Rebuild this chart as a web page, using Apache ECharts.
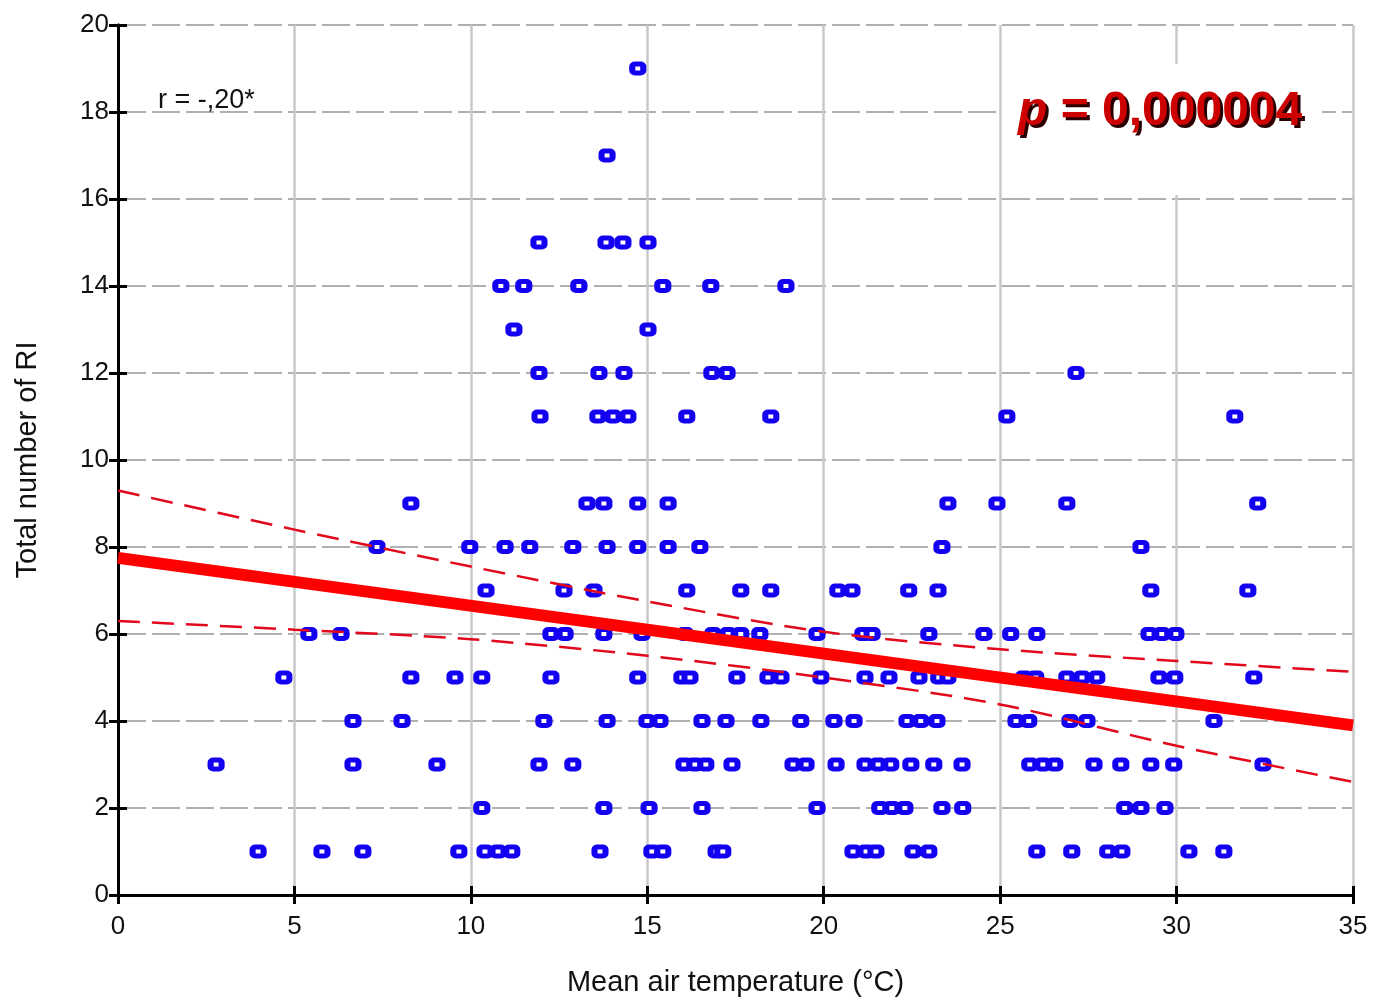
<!DOCTYPE html>
<html>
<head>
<meta charset="utf-8">
<script src="https://cdn.jsdelivr.net/npm/echarts@6/dist/echarts.min.js"></script>
<style>
  html, body { margin: 0; padding: 0; background: #ffffff; }
  #chart { width: 1375px; height: 999px; }
</style>
</head>
<body>
<div id="chart"></div>
<script>
// Mean air temperature (°C) of each observation, grouped by Total number of RI
const countLevels = [1, 2, 3, 4, 5, 6, 7, 8, 9, 11, 12, 13, 14, 15, 17, 19];
const tempAt1 = [3.97, 5.78, 6.94, 9.66, 10.4, 10.77, 11.16, 13.66, 15.13, 15.44, 16.95, 17.14, 20.83, 21.2, 21.48, 22.53, 22.98, 26.04, 27.03, 28.05, 28.45, 30.35, 31.34];
const tempAt2 = [10.31, 13.77, 15.05, 16.55, 19.81, 21.59, 21.93, 22.3, 23.35, 23.94, 28.53, 28.99, 29.67];
const tempAt3 = [2.78, 6.66, 9.04, 11.93, 12.89, 16.04, 16.35, 16.66, 17.4, 19.13, 19.5, 20.35, 21.17, 21.54, 21.9, 22.47, 23.12, 23.92, 25.84, 26.21, 26.55, 27.66, 28.42, 29.27, 29.92, 32.45];
const tempAt4 = [6.66, 8.05, 12.07, 13.86, 14.99, 15.36, 16.55, 17.23, 18.22, 19.35, 20.29, 20.86, 22.36, 22.75, 23.21, 25.45, 25.81, 26.98, 27.46, 31.06];
const tempAt5 = [4.7, 8.3, 9.55, 10.31, 12.27, 14.73, 15.98, 16.21, 17.54, 18.42, 18.79, 19.92, 21.17, 21.85, 22.7, 23.26, 23.52, 25.67, 26.01, 26.89, 27.32, 27.74, 29.5, 29.95, 32.19];
const tempAt6 = [5.41, 6.32, 12.27, 12.67, 13.77, 14.85, 16.07, 16.86, 17.29, 17.65, 18.19, 19.81, 21.11, 21.37, 22.98, 24.54, 25.3, 26.04, 29.22, 29.58, 29.98];
const tempAt7 = [10.43, 12.64, 13.49, 16.12, 17.65, 18.5, 20.4, 20.8, 22.41, 23.24, 29.27, 32.02];
const tempAt8 = [7.34, 9.97, 10.97, 11.67, 12.89, 13.86, 14.73, 15.59, 16.49, 23.35, 28.99];
const tempAt9 = [8.3, 13.29, 13.77, 14.73, 15.59, 23.52, 24.91, 26.89, 32.3];
const tempAt11 = [11.96, 13.6, 14.03, 14.45, 16.12, 18.5, 25.19, 31.65];
const tempAt12 = [11.93, 13.63, 14.34, 16.83, 17.26, 27.15];
const tempAt13 = [11.22, 15.02];
const tempAt14 = [10.85, 11.5, 13.06, 15.44, 16.8, 18.93];
const tempAt15 = [11.93, 13.83, 14.31, 15.02];
const tempAt17 = [13.86];
const tempAt19 = [14.73];
const tempGroups = [tempAt1, tempAt2, tempAt3, tempAt4, tempAt5, tempAt6, tempAt7, tempAt8, tempAt9, tempAt11, tempAt12, tempAt13, tempAt14, tempAt15, tempAt17, tempAt19];

// regression line and its confidence band
const fitX = [0, 35];
const fitY = [7.75, 3.9];
const bandX = [0, 5, 10, 15, 20, 25, 30, 35];
const upperBand = [9.3, 8.4, 7.55, 6.75, 6.05, 5.65, 5.38, 5.13];
const lowerBand = [6.3, 6.1, 5.88, 5.5, 5.0, 4.38, 3.43, 2.6];

const xTicks = { min: 0, max: 35, interval: 5 };
const yTicks = { min: 0, max: 20, interval: 2 };
const xTitle = 'Mean air temperature (°C)';
const yTitle = 'Total number of RI';
const corrText = 'r = -,20*';
const pText = '0,000004';

const scatterData = [];
tempGroups.forEach((g, i) => g.forEach(t => scatterData.push([t, countLevels[i]])));

const FONT = "'Liberation Sans', Arial, sans-serif";
const chart = echarts.init(document.getElementById('chart'), null, { renderer: 'canvas' });

const mirrorAxis = {
  axisLine: { show: true, lineStyle: { color: '#000', width: 3 } },
  axisTick: { show: true, inside: true, length: 9, lineStyle: { color: '#000', width: 3 } },
  axisLabel: { show: false },
  splitLine: { show: false }
};

chart.setOption({
  animation: false,
  backgroundColor: '#ffffff',
  grid: { left: 118, right: 22, top: 25, bottom: 104, containLabel: false, outerBoundsMode: 'none' },
  xAxis: [
    {
      type: 'value', min: xTicks.min, max: xTicks.max, interval: xTicks.interval,
      position: 'bottom',
      name: xTitle, nameLocation: 'middle', nameGap: 73,
      nameTextStyle: { fontFamily: FONT, fontSize: 29, color: '#111' },
      axisLine: { show: true, onZero: false, lineStyle: { color: '#000', width: 3 } },
      axisTick: { show: true, inside: true, length: 9, lineStyle: { color: '#000', width: 3 } },
      axisLabel: { fontFamily: FONT, fontSize: 26, color: '#111', margin: 19 },
      splitLine: { show: true, lineStyle: { color: '#c8c8c8', width: 2.5 } }
    },
    Object.assign({ type: 'value', min: xTicks.min, max: xTicks.max, interval: xTicks.interval, position: 'top' }, mirrorAxis)
  ],
  yAxis: [
    {
      type: 'value', min: yTicks.min, max: yTicks.max, interval: yTicks.interval,
      position: 'left',
      name: yTitle, nameLocation: 'middle', nameGap: 76,
      nameTextStyle: { fontFamily: FONT, fontSize: 29, color: '#111' },
      axisLine: { show: true, onZero: false, lineStyle: { color: '#000', width: 3 } },
      axisTick: { show: true, inside: true, length: 9, lineStyle: { color: '#000', width: 3 } },
      axisLabel: { fontFamily: FONT, fontSize: 26, color: '#111', margin: 9 },
      splitLine: { show: true, lineStyle: { color: '#b0b0b0', width: 2, type: [28, 6] } }
    },
    Object.assign({ type: 'value', min: yTicks.min, max: yTicks.max, interval: yTicks.interval, position: 'right' }, mirrorAxis)
  ],
  series: [
    {
      type: 'scatter',
      data: scatterData,
      symbol: 'roundRect',
      symbolSize: [11, 9],
      itemStyle: { color: '#ffffff', borderColor: '#1400f0', borderWidth: 5.5, opacity: 1 },
      z: 3
    },
    {
      type: 'line',
      data: fitX.map((x, i) => [x, fitY[i]]),
      symbol: 'none',
      lineStyle: { color: '#ff0000', width: 12 },
      z: 4
    },
    {
      type: 'line',
      data: bandX.map((x, i) => [x, upperBand[i]]),
      symbol: 'none', smooth: 0.3,
      lineStyle: { color: '#e2081c', width: 2.5, type: [22, 12] },
      z: 4
    },
    {
      type: 'line',
      data: bandX.map((x, i) => [x, lowerBand[i]]),
      symbol: 'none', smooth: 0.3,
      lineStyle: { color: '#e2081c', width: 2.5, type: [22, 12] },
      z: 4
    }
  ],
  graphic: [
    {
      type: 'rect', z: 50,
      shape: { x: 1002, y: 64, width: 320, height: 131 },
      style: { fill: '#ffffff' }
    },
    {
      type: 'text', z: 51, left: 158, top: 87,
      style: { text: corrText, font: "27px " + FONT, fill: '#111' }
    },
    {
      type: 'text', z: 51, left: 1021, top: 91,
      style: {
        text: '{i|p} = ' + pText,
        font: "bold 48px " + FONT, fill: '#2a0000',
        rich: { i: { fontStyle: 'italic', fontWeight: 'bold', fontSize: 48, fontFamily: FONT, fill: '#2a0000' } }
      }
    },
    {
      type: 'text', z: 52, left: 1018, top: 88,
      style: {
        text: '{i|p} = ' + pText,
        font: "bold 48px " + FONT, fill: '#cc0000',
        rich: { i: { fontStyle: 'italic', fontWeight: 'bold', fontSize: 48, fontFamily: FONT, fill: '#cc0000' } }
      }
    }
  ]
});
</script>
</body>
</html>
